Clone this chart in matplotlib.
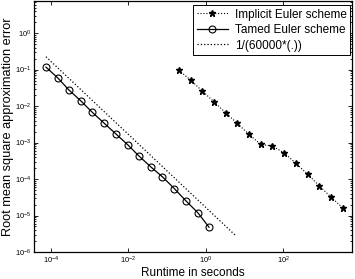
import numpy as np
import matplotlib
matplotlib.use("Agg")
import matplotlib.pyplot as plt
from matplotlib.ticker import LogLocator, NullLocator, LogFormatterSciNotation

plt.rcParams["font.family"] = ["Liberation Sans", "DejaVu Sans"]
plt.rcParams["mathtext.default"] = "regular"

# ── data ──────────────────────────────────────────────
implicit_runtime = [0.200, 0.407, 0.813, 1.63, 3.27, 6.52, 13.1, 26.2, 52.2,
                    105.0, 214.0, 430.0, 857.0, 1690.0, 3440.0]
implicit_error = [0.0968, 0.0515, 0.0258, 0.0131, 6.55e-3, 3.36e-3, 1.68e-3,
                  8.93e-4, 8.02e-4, 5.26e-4, 2.69e-4, 1.35e-4, 6.55e-5,
                  3.27e-5, 1.64e-5]

tamed_runtime = [7.4e-5, 1.51e-4, 2.92e-4, 5.96e-4, 1.15e-3, 2.34e-3, 4.79e-3,
                 9.77e-3, 1.88e-2, 3.84e-2, 7.59e-2, 0.153, 0.302, 0.624, 1.21]
tamed_error = [0.117, 0.0585, 0.0274, 0.0137, 6.85e-3, 3.42e-3, 1.71e-3,
               8.55e-4, 4.27e-4, 2.13e-4, 1.15e-4, 5.5e-5, 2.57e-5, 1.19e-5,
               4.8e-6]

ref_const = 60000.0
ref_runtime = [7.4e-5, 6.0]

x_ticks = [1e-4, 1e-2, 1e0, 1e2]

fig = plt.figure(figsize=(3.55, 2.79), dpi=100)
ax = fig.add_axes([34 / 355, 1 - 252 / 279, 318 / 355, 251 / 279])

ax.loglog(implicit_runtime, implicit_error, linestyle=":", color="black",
          linewidth=0.8, marker="*", markersize=5, markerfacecolor="black",
          markeredgecolor="black", markeredgewidth=1.0,
          label="Implicit Euler scheme")
ax.loglog(tamed_runtime, tamed_error, linestyle="-", color="black",
          linewidth=0.9, marker="o", markersize=5, markerfacecolor="none",
          markeredgecolor="black", markeredgewidth=0.8,
          label="Tamed Euler scheme")
rx = np.array(ref_runtime)
ax.loglog(rx, 1.0 / (ref_const * rx), linestyle=":", color="black",
          linewidth=0.9, label="1/(60000*(.))")

ax.set_xlim(10 ** -4.44, 10 ** 3.78)
ax.set_ylim(1e-6, 10 ** 0.88)

ax.xaxis.set_major_locator(plt.FixedLocator(x_ticks))
ax.xaxis.set_major_formatter(LogFormatterSciNotation())
ax.xaxis.set_minor_locator(NullLocator())
ax.yaxis.set_major_locator(LogLocator(base=10, numticks=12))
ax.yaxis.set_minor_locator(LogLocator(base=10, subs=np.arange(2, 10), numticks=12))

ax.tick_params(which="both", direction="in", top=True, right=True,
               labelsize=5.5, width=0.6, pad=2)
ax.tick_params(which="major", length=3)
ax.tick_params(which="minor", length=1.5)
for s in ax.spines.values():
    s.set_linewidth(0.9)

ax.set_xlabel("Runtime in seconds", fontsize=8.5, labelpad=0.5)
ax.set_ylabel("Root mean square approximation error", fontsize=9.2, labelpad=0.5)

leg = ax.legend(loc="upper right", bbox_to_anchor=(1.0 - 2 / 318, 1.0 - 4 / 251),
                borderaxespad=0, fontsize=8.5, fancybox=False, framealpha=1,
                edgecolor="black", handlelength=2.6, handletextpad=0.6,
                labelspacing=0.3, borderpad=0.3)
leg.get_frame().set_linewidth(0.7)

fig.savefig("out.png", dpi=100)
